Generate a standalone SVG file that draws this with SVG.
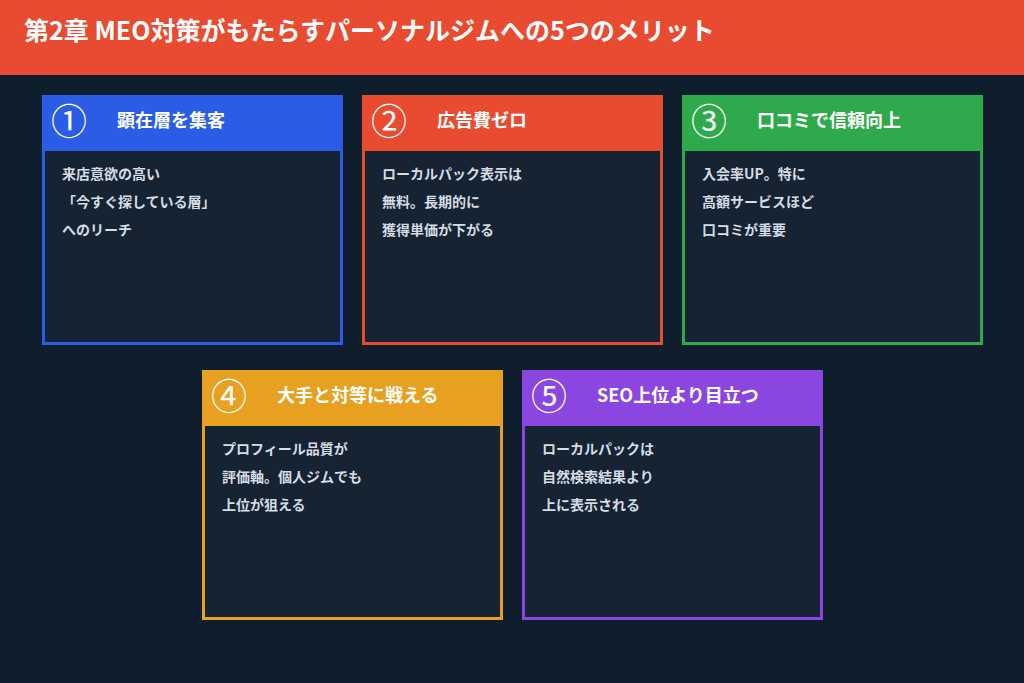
<svg xmlns="http://www.w3.org/2000/svg" width="1024" height="683" viewBox="0 0 1024 683">
<style>
text{font-family:"Noto Sans CJK JP","Noto Sans",sans-serif}
.t{fill:#fff;font-size:25px;font-weight:bold}
.n{fill:#fff;font-size:36px}
.h{fill:#fff;font-size:18px;font-weight:bold}
.b{fill:#D5DCE4;font-size:14px;font-weight:bold}
.body{fill:#152333;stroke-width:3}
</style>
<rect width="1024" height="683" fill="#0F1E2D"/>
<rect width="1024" height="75" fill="#E84B30"/>
<text class="t" x="24" y="40">第2章 MEO対策がもたらすパーソナルジムへの5つのメリット</text>
<g id="card1">
<rect class="body" x="43.5" y="96.5" width="298" height="247" stroke="#2B5CE6"/>
<rect x="42" y="95" width="301" height="56" fill="#2B5CE6"/>
<text class="n" x="51" y="135">①</text><text class="h" x="117" y="127">顕在層を集客</text>
<text class="b" x="62" y="179">来店意欲の高い</text><text class="b" x="62" y="207">「今すぐ探している層」</text><text class="b" x="62" y="235">へのリーチ</text>
</g>
<g id="card2">
<rect class="body" x="363.5" y="96.5" width="298" height="247" stroke="#E84B30"/>
<rect x="362" y="95" width="301" height="56" fill="#E84B30"/>
<text class="n" x="371" y="135">②</text><text class="h" x="437" y="127">広告費ゼロ</text>
<text class="b" x="382" y="179">ローカルパック表示は</text><text class="b" x="382" y="207">無料。長期的に</text><text class="b" x="382" y="235">獲得単価が下がる</text>
</g>
<g id="card3">
<rect class="body" x="683.5" y="96.5" width="298" height="247" stroke="#2EAA4C"/>
<rect x="682" y="95" width="301" height="56" fill="#2EAA4C"/>
<text class="n" x="691" y="135">③</text><text class="h" x="757" y="127">口コミで信頼向上</text>
<text class="b" x="702" y="179">入会率UP。特に</text><text class="b" x="702" y="207">高額サービスほど</text><text class="b" x="702" y="235">口コミが重要</text>
</g>
<g id="card4">
<rect class="body" x="203.5" y="371.5" width="298" height="247" stroke="#E8A020"/>
<rect x="202" y="370" width="301" height="56" fill="#E8A020"/>
<text class="n" x="211" y="410">④</text><text class="h" x="277" y="402">大手と対等に戦える</text>
<text class="b" x="222" y="454">プロフィール品質が</text><text class="b" x="222" y="482">評価軸。個人ジムでも</text><text class="b" x="222" y="510">上位が狙える</text>
</g>
<g id="card5">
<rect class="body" x="523.5" y="371.5" width="298" height="247" stroke="#8B45E0"/>
<rect x="522" y="370" width="301" height="56" fill="#8B45E0"/>
<text class="n" x="531" y="410">⑤</text><text class="h" x="597" y="402">SEO上位より目立つ</text>
<text class="b" x="542" y="454">ローカルパックは</text><text class="b" x="542" y="482">自然検索結果より</text><text class="b" x="542" y="510">上に表示される</text>
</g>
<g id="connectors"/>
</svg>
